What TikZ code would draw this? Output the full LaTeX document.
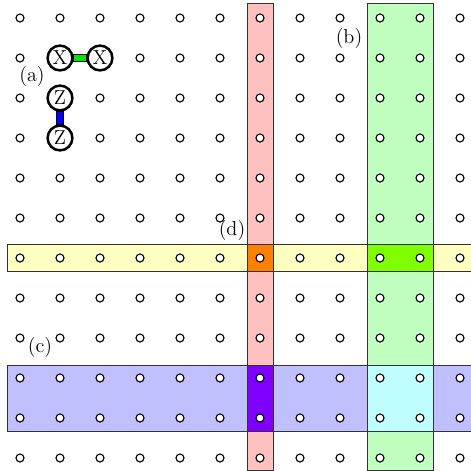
\documentclass[tikz,border=0pt]{standalone}
\usetikzlibrary{calc}
\definecolor{stripred}{RGB}{255,192,192}
\definecolor{stripgreen}{RGB}{192,255,192}
\definecolor{stripyellow}{RGB}{255,255,192}
\definecolor{stripblue}{RGB}{192,192,255}
\definecolor{isorange}{RGB}{255,128,0}
\definecolor{islime}{RGB}{128,255,0}
\definecolor{ispurple}{RGB}{128,0,255}
\definecolor{iscyan}{RGB}{192,255,255}
\definecolor{xbar}{RGB}{0,230,0}
\tikzset{
  strip/.style={draw=black!80, line width=0.6pt},
  qubit/.style={circle, draw=black, fill=white, line width=0.8pt, minimum size=0.2cm, inner sep=0pt},
  pauli/.style={circle, draw=black, fill=white, line width=1.8pt, minimum size=0.62cm, inner sep=0pt, font=\Large},
  lbl/.style={font=\Large, inner sep=0pt},
  bond/.style={draw=black, line width=0.5pt}
}
\begin{document}
\begin{tikzpicture}
\useasboundingbox (0,0) rectangle (11.775,11.775);
% strips
\fill[white] (0,0) rectangle (11.775,11.775);
\filldraw[strip, fill=stripred] (6.175,0.025) rectangle (6.825,11.7);
\filldraw[strip, fill=stripgreen] (9.175,0.025) rectangle (10.825,11.7);
\filldraw[strip, fill=stripyellow] (0.175,5.0) rectangle (12,5.675);
\filldraw[strip, fill=stripblue] (0.175,1.0) rectangle (12,2.65);
\filldraw[strip, fill=isorange] (6.175,5.0) rectangle (6.825,5.675);
\filldraw[strip, fill=islime] (9.175,5.0) rectangle (10.825,5.675);
\filldraw[strip, fill=ispurple] (6.175,1.0) rectangle (6.825,2.65);
\filldraw[strip, fill=iscyan] (9.175,1.0) rectangle (10.825,2.65);
% qubits
\foreach \i in {0,...,11}{
  \foreach \j in {0,...,11}{
    \node[qubit] (q-\i-\j) at ({0.5+\i},{11.325-\j}) {};
  }
}
% stabilizer examples
\node[pauli] (x1) at (1.5,10.325) {X};
\node[pauli] (x2) at (2.5,10.325) {X};
\node[pauli] (z1) at (1.5,9.325) {Z};
\node[pauli] (z2) at (1.5,8.325) {Z};
\filldraw[bond, fill=xbar] ($(x1.east)+(0,-0.085)$) rectangle ($(x2.west)+(0,0.085)$);
\filldraw[bond, fill=blue] ($(z1.south)+(-0.085,0)$) rectangle ($(z2.north)+(0.085,0)$);
% labels
\node[lbl] (la) at (0.8,9.875) {(a)};
\node[lbl] (lb) at (8.725,10.825) {(b)};
\node[lbl] (lc) at (1.0,3.1) {(c)};
\node[lbl] (ld) at (5.8,6.025) {(d)};
\end{tikzpicture}
\end{document}
